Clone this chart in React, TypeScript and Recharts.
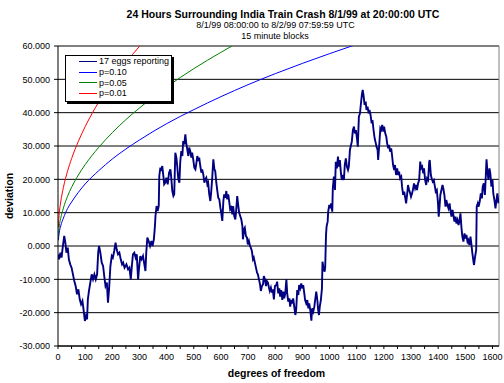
import { CartesianGrid, Legend, Line, LineChart, ReferenceLine, XAxis, YAxis } from "recharts";

const FONT = "Arial, 'Liberation Sans', sans-serif";

// cumulative deviation of the 17 eggs
const eggDf = [
  0, 4, 9, 13, 18, 23, 27, 31, 36, 40, 45, 50, 55, 60, 65, 70, 75, 80, 85, 90,
  94, 99, 103, 107, 110, 114, 119, 124, 129, 134, 139, 144, 148, 151, 156, 161, 166, 171, 175, 180,
  184, 188, 193, 198, 202, 207, 212, 216, 221, 226, 231, 236, 240, 245, 252, 258, 263, 268, 272, 276,
  281, 286, 290, 295, 298, 303, 308, 313, 318, 322, 325, 329, 334, 339, 344, 348, 353, 357, 359, 363,
  367, 371, 373, 377, 380, 384, 388, 391, 395, 399, 404, 409, 414, 417, 421, 425, 428, 432, 436, 439,
  443, 447, 450, 454, 458, 461, 465, 469, 472, 476, 480, 483, 487, 491, 494, 498, 502, 506, 509, 513,
  517, 520, 524, 528, 531, 535, 539, 542, 546, 550, 553, 557, 561, 564, 568, 572, 576, 579, 583, 586,
  590, 594, 598, 601, 605, 609, 612, 616, 620, 623, 627, 631, 634, 638, 642, 645, 649, 653, 656, 660,
  664, 667, 671, 675, 679, 681, 685, 688, 692, 696, 699, 703, 707, 710, 714, 718, 721, 725, 729, 733,
  736, 740, 744, 747, 751, 755, 758, 762, 766, 769, 773, 777, 780, 784, 788, 791, 795, 799, 804, 807,
  811, 815, 818, 822, 826, 830, 833, 837, 841, 844, 848, 852, 855, 859, 863, 866, 870, 874, 877, 881,
  885, 888, 892, 896, 899, 903, 907, 910, 914, 918, 922, 925, 929, 933, 936, 940, 944, 947, 951, 955,
  958, 961, 964, 968, 972, 974, 978, 982, 984, 987, 989, 993, 995, 999, 1002, 1006, 1010, 1012, 1016, 1020,
  1023, 1027, 1031, 1034, 1038, 1042, 1045, 1049, 1053, 1056, 1060, 1064, 1068, 1071, 1075, 1079, 1082, 1086, 1090, 1093,
  1097, 1101, 1104, 1108, 1112, 1115, 1119, 1122, 1125, 1129, 1133, 1136, 1140, 1144, 1147, 1151, 1155, 1158, 1162, 1166,
  1169, 1173, 1177, 1179, 1183, 1187, 1190, 1194, 1198, 1201, 1205, 1209, 1212, 1216, 1219, 1223, 1227, 1230, 1234, 1238,
  1241, 1245, 1249, 1253, 1256, 1260, 1264, 1267, 1271, 1275, 1278, 1282, 1286, 1289, 1293, 1297, 1300, 1304, 1308, 1311,
  1315, 1319, 1322, 1326, 1330, 1334, 1337, 1341, 1345, 1348, 1352, 1356, 1359, 1363, 1367, 1369, 1373, 1376, 1380, 1384,
  1388, 1391, 1395, 1399, 1402, 1405, 1408, 1412, 1416, 1419, 1423, 1427, 1430, 1434, 1438, 1442, 1445, 1449, 1453, 1456,
  1460, 1464, 1467, 1471, 1475, 1478, 1482, 1486, 1489, 1493, 1497, 1500, 1504, 1508, 1511, 1515, 1519, 1522, 1526, 1530,
  1532, 1536, 1540, 1542, 1546, 1549, 1553, 1557, 1561, 1564, 1568, 1572, 1575, 1578, 1581, 1585, 1589, 1592, 1596, 1600,
  1603, 1607, 1611, 1614, 1618, 1622,
];
const eggDev = [
  -2.5, -4, -2, -3.5, 0, 3, 1, -2, -0.5, -4, -5.5, -6.5, -8.5, -10.5, -12, -14.5, -13, -16, -17.5, -16.5,
  -19, -22.5, -21, -22, -16, -13.5, -11, -8.5, -10, -8.5, -10, -8.5, -2, 0, -2, -5, -6, -9.5, -12, -11,
  -17, -13, -6, -3, -3.5, -1.5, 1, -1, -2.5, -2, -4, -5.5, -5, -6.5, -5.5, -7, -6.5, -10, -6, -2.5,
  -2, -3.5, -2.5, -10, -7, -3, -4, -3, -5.5, -7.5, -2, 2.5, 1.5, 0, 1.5, 0, 2, 6, 9, 12,
  10.5, 12, 21, 23.5, 22.5, 24, 21, 18.5, 19, 20.5, 18.5, 22, 23, 20.5, 16.5, 15, 15.5, 28, 26.5, 24,
  20, 19, 25, 28.5, 27, 31.5, 30.5, 33.5, 31, 29, 27, 29.5, 28.5, 26.5, 28, 26, 23.5, 23, 24.5, 27,
  25.5, 26.5, 24, 22, 23, 21.5, 19, 20, 20.5, 18.5, 19, 15.5, 13.5, 16, 20.5, 26, 23, 22.5, 19, 17,
  14.5, 14, 11.5, 10, 7.5, 13.5, 15.5, 14.5, 16.5, 14, 15.5, 13, 11, 11.5, 9.5, 12, 9, 8, 10.5, 15,
  12, 10, 9, 8, 6, 2, 5, 5.5, 3, 2.5, 0.5, 1.5, 0, -0.5, -1.5, -4, -3.5, -5, -6.5, -8,
  -8.5, -10, -11.5, -13.5, -12, -11.5, -9, -10, -12, -10.5, -11, -12.5, -13.5, -12.5, -14, -13, -16, -12, -11.7, -10.7,
  -14.2, -12.7, -15.2, -13.2, -16.2, -13.7, -15.7, -14.2, -10, -14.2, -16.7, -15.7, -18.2, -16.2, -17.2, -15.7, -18.2, -20.7, -19.2, -13.2,
  -14.7, -11.7, -12.7, -11.2, -12.7, -11.7, -14.2, -16.2, -17.2, -16.2, -18.7, -17.2, -19.2, -22.4, -18.7, -19.7, -18.2, -16.2, -13.7, -16.2,
  -19.2, -20.7, -18.2, -16.2, -12.7, -4.7, -6.7, -7.7, -6.2, 3.3, 5.8, 7.3, 10.3, 12.3, 11.3, 12.8, 10.3, 17.3, 20.8, 16.8,
  25.3, 23.3, 26.8, 23.8, 25.8, 21.8, 19.8, 21.3, 19.8, 24.3, 26.3, 23.8, 22.8, 23.8, 28.8, 30.3, 31.3, 34.8, 35.8, 33.8,
  34.8, 32.3, 29.8, 38.8, 39.8, 42.3, 45.3, 46.8, 45.3, 42.3, 43.3, 40.8, 41.8, 39.8, 40.8, 39.3, 36.8, 37.8, 34.8, 32.3,
  31.3, 29.8, 28.8, 25.8, 30.3, 35.3, 34.8, 36.3, 34.3, 35.8, 33.8, 32.8, 30.8, 29.3, 30.3, 28.3, 29.3, 27.3, 24.3, 22.8,
  24.3, 21.3, 23.3, 21.3, 22.3, 20.3, 20.8, 17.8, 15.3, 16.3, 14.8, 12.8, 15.8, 18.3, 16.8, 15.8, 14.8, 15.8, 17.3, 18.8,
  17.3, 18.3, 16.8, 18.8, 19.8, 25.3, 23.3, 23.8, 21.8, 23.3, 19.8, 18.3, 20.3, 19.8, 25.3, 25.8, 21.3, 20.3, 19.3, 19.8,
  17.8, 16.3, 16.8, 13.3, 8.8, 11.8, 15.3, 16.8, 18.3, 17.3, 15.3, 11.8, 13.8, 12.3, 11.3, 12.8, 10.8, 8.8, 10.8, 9.3,
  7.3, 8.8, 6.8, 7.8, 6.3, 7.3, 9.8, 5.3, 2.8, 1.3, 3.8, 2.3, 3.3, 1.3, 1.8, 0.3, 2.8, 0.8, -2.2, -4.7,
  -5.7, -3.2, -1.2, 11.8, 12.8, 11.8, 13.3, 15.8, 14.3, 17.8, 18.8, 15.3, 20.3, 26, 22.8, 19.8, 23.3, 21.8, 17.8, 19.8,
  15.8, 13.8, 11.3, 13.3, 15.8, 12.8,
];

// significance envelopes
const curveDf = [1, 5, 10, 20, 35, 50, 75, 100, 150, 200, 250, 300, 400, 500, 600, 700, 800, 1000, 1200, 1400, 1632];
const p10Dev = [1.7, 4.2, 6.0, 8.4, 11.2, 13.2, 16.1, 18.6, 22.6, 26.1, 29.1, 31.8, 36.7, 40.9, 44.8, 48.4, 51.7, 57.7, 63.2, 68.2, 73.6];
const p05Dev = [2.8, 6.1, 8.3, 11.4, 14.9, 17.6, 21.3, 24.4, 29.6, 34.0, 37.9, 41.4, 47.7, 53.2, 58.1, 62.7, 66.9, 74.7, 81.7, 88.2, 95.1];
const p01Dev = [5.6, 10.1, 13.2, 17.6, 22.4, 26.2, 31.4, 35.8, 43.2, 49.5, 55.0, 59.9, 68.7, 76.5, 83.5, 90.0, 96.0, 107.0, 116.9, 126.0, 135.8];

const seriesNames = ["17 eggs reporting", "p=0.10", "p=0.05", "p=0.01"];

const xTicks = [
  0, 50, 100, 150, 200, 250, 300, 350, 400, 450, 500, 550, 600, 650, 700, 750, 800, 850,
  900, 950, 1000, 1050, 1100, 1150, 1200, 1250, 1300, 1350, 1400, 1450, 1500, 1550, 1600,
];
const yTicks = [-30, -20, -10, 0, 10, 20, 30, 40, 50, 60];

const eggData = eggDf.map((df, i) => ({ df, dev: eggDev[i] }));
const p10Data = curveDf.map((df, i) => ({ df, dev: p10Dev[i] }));
const p05Data = curveDf.map((df, i) => ({ df, dev: p05Dev[i] }));
const p01Data = curveDf.map((df, i) => ({ df, dev: p01Dev[i] }));

function XTick({ x, y, payload }: any) {
  if (payload.value % 100 !== 0) return null;
  return (
    <text x={x} y={y} dy={9} textAnchor="middle" fontSize={9} fontFamily={FONT} fill="#000">
      {payload.value}
    </text>
  );
}

function LegendBox({ payload }: any) {
  const items = [...(payload || [])].sort(
    (a: any, b: any) => seriesNames.indexOf(a.value) - seriesNames.indexOf(b.value)
  );
  return (
    <div
      style={{
        background: "#fff",
        border: "1px solid #000",
        boxShadow: "2px 2px 0 #000",
        width: 107,
        height: 47,
        boxSizing: "border-box",
        fontFamily: FONT,
        fontSize: 9,
        color: "#000",
      }}
    >
      {items.map((p: any) => (
        <div key={p.value} style={{ display: "flex", alignItems: "center", height: 10.7 }}>
          <span style={{ width: 18, height: 0, borderTop: `1px solid ${p.color}`, marginLeft: 13, marginRight: 2 }} />
          <span style={{ whiteSpace: "nowrap" }}>{p.value}</span>
        </div>
      ))}
    </div>
  );
}

export default function App() {
  return (
    <div style={{ position: "absolute", left: 0, top: 0, width: 504, height: 383, background: "#fff", fontFamily: FONT }}>
      <div style={{ position: "absolute", left: 0, width: 566, top: 8, lineHeight: "12px", textAlign: "center", fontWeight: "bold", fontSize: 10.5 }}>
        24 Hours Surrounding India Train Crash 8/1/99 at 20:00:00 UTC
      </div>
      <div style={{ position: "absolute", left: 0, width: 551, top: 19, lineHeight: "12px", textAlign: "center", fontSize: 9 }}>
        8/1/99 08:00:00 to 8/2/99 07:59:59 UTC
      </div>
      <div style={{ position: "absolute", left: 0, width: 550, top: 30, lineHeight: "12px", textAlign: "center", fontSize: 9 }}>
        15 minute blocks
      </div>
      <LineChart width={504} height={383} margin={{ top: 46, right: 5, left: 8, bottom: 17 }}>
        <CartesianGrid vertical={false} stroke="#000" />
        <XAxis
          type="number"
          dataKey="df"
          domain={[0, 1624]}
          ticks={xTicks}
          interval={0}
          allowDataOverflow
          height={20}
          tickSize={3}
          tickMargin={2}
          tick={<XTick />}
          axisLine={{ stroke: "#000" }}
          tickLine={{ stroke: "#000" }}
          label={{
            content: ({ viewBox }: any) => (
              <text
                x={viewBox.x + viewBox.width / 2 - 2}
                y={viewBox.y + 27}
                textAnchor="middle"
                dominantBaseline="central"
                fontSize={10.5}
                fontWeight="bold"
                fontFamily={FONT}
                fill="#000"
              >
                degrees of freedom
              </text>
            ),
          }}
        />
        <YAxis
          type="number"
          domain={[-30, 60]}
          ticks={yTicks}
          interval={0}
          allowDataOverflow
          width={50}
          tickSize={4}
          tickMargin={4}
          tickFormatter={(v: number) => v.toFixed(3)}
          tick={{ fontSize: 9, fontFamily: FONT, fill: "#000" }}
          axisLine={{ stroke: "#000" }}
          tickLine={{ stroke: "#000" }}
          label={{
            content: ({ viewBox }: any) => {
              const cx = viewBox.x + 1;
              const cy = viewBox.y + viewBox.height / 2;
              return (
                <text
                  x={cx}
                  y={cy}
                  transform={`rotate(-90, ${cx}, ${cy})`}
                  textAnchor="middle"
                  dominantBaseline="central"
                  fontSize={10.5}
                  fontWeight="bold"
                  fontFamily={FONT}
                  fill="#000"
                >
                  deviation
                </text>
              );
            },
          }}
        />
        <ReferenceLine y={60} stroke="#808080" />
        <ReferenceLine x={1624} stroke="#808080" />
        <Legend
          layout="horizontal"
          verticalAlign="middle"
          align="center"
          content={<LegendBox />}
          wrapperStyle={{ position: "absolute", left: 65, top: 55, width: 107, height: 47 }}
        />
        <Line data={eggData} dataKey="dev" name={seriesNames[0]} stroke="#000080" strokeWidth={1.9} dot={false} type="linear" isAnimationActive={false} />
        <Line data={p10Data} dataKey="dev" name={seriesNames[1]} stroke="#0000ff" strokeWidth={1} dot={false} type="monotone" isAnimationActive={false} />
        <Line data={p05Data} dataKey="dev" name={seriesNames[2]} stroke="#008000" strokeWidth={1} dot={false} type="monotone" isAnimationActive={false} />
        <Line data={p01Data} dataKey="dev" name={seriesNames[3]} stroke="#ff0000" strokeWidth={1} dot={false} type="monotone" isAnimationActive={false} />
      </LineChart>
    </div>
  );
}
